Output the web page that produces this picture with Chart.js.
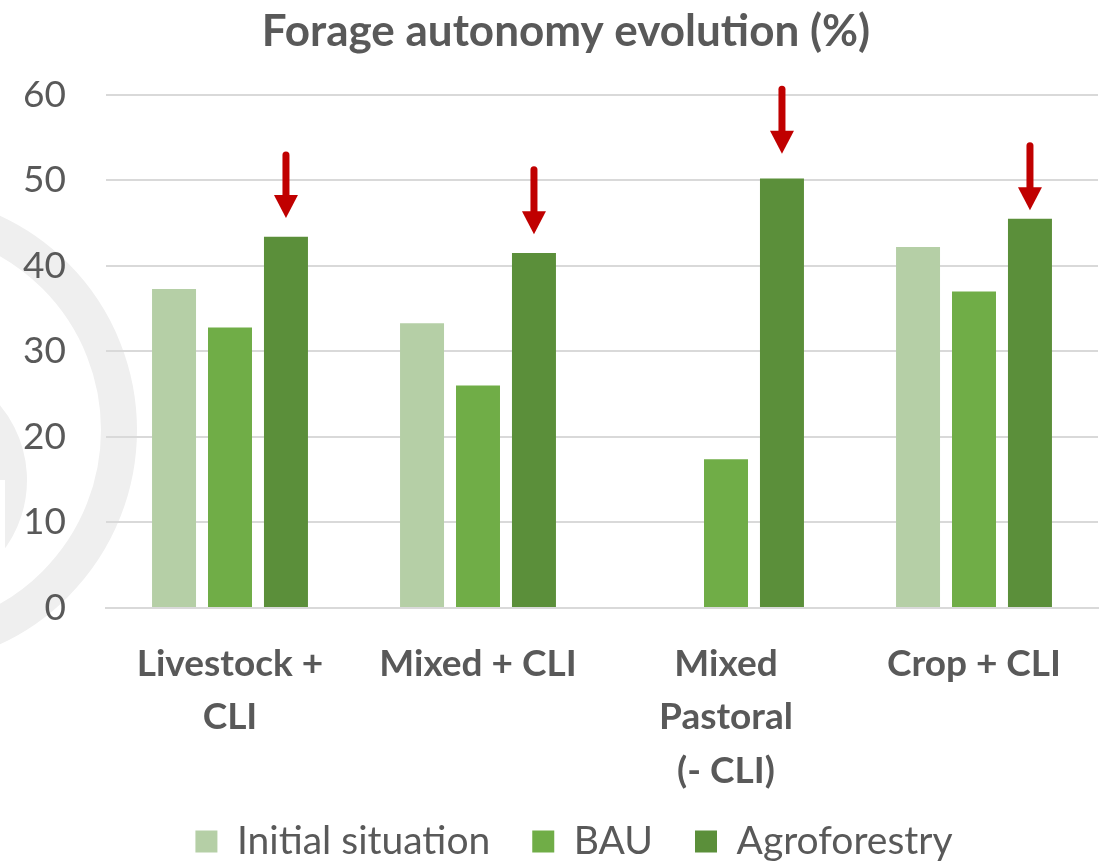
<!DOCTYPE html>
<html>
<head>
<meta charset="utf-8">
<script src="https://cdn.jsdelivr.net/npm/chart.js@4/dist/chart.umd.min.js"></script>
<style>
  html, body { margin: 0; padding: 0; background: #fff; }
  #wrap { width: 1104px; height: 862px; }
</style>
</head>
<body>
<div id="wrap"><canvas id="c" width="1104" height="862"></canvas></div>
<script>
  'use strict';

  const categories = [['Livestock +', 'CLI'], 'Mixed + CLI', ['Mixed', 'Pastoral', '(- CLI)'], 'Crop + CLI'];
  const initialSituation = [37.3, 33.3, null, 42.2];
  const bau = [32.8, 26.0, 17.4, 37.0];
  const agroforestry = [43.4, 41.5, 50.2, 45.5];
  // red arrows above the agroforestry bars (value range, top -> tip)
  const arrowFrom = [53.3, 51.6, 61.0, 54.4];
  const arrowTo = [45.6, 43.7, 53.1, 46.5];
  const yTicks = [0, 10, 20, 30, 40, 50, 60];

  const GREY = '#595959';
  const FONT = 'Lato, "Open Sans", sans-serif';

  // faint logo ring in the background on the left
  const watermark = {
    id: 'watermark',
    beforeDraw(chart) {
      const ctx = chart.ctx;
      ctx.save();
      ctx.strokeStyle = '#efefef';
      ctx.lineWidth = 36;
      ctx.beginPath();
      ctx.arc(-99, 430, 218, -Math.PI / 2, Math.PI / 2);
      ctx.stroke();
      ctx.lineWidth = 30;
      ctx.beginPath();
      ctx.arc(-90, 480, 102, -Math.PI / 2.5, Math.PI / 2.5);
      ctx.stroke();
      ctx.fillStyle = '#fff';
      ctx.fillRect(0, 480, 5, 94);
      ctx.restore();
    }
  };

  // legend a bit lower/right, title a bit right; let the x labels run past their box
  const nudge = {
    id: 'nudge',
    afterLayout(chart) {
      const lg = chart.legend;
      lg.top += 9;
      lg.bottom += 9;
      lg.left += 25;
      lg.right += 25;
      const t = chart.titleBlock;
      t.left += 17;
      t.right += 17;
      chart.scales.x.bottom += 40;
    }
  };

  const arrows = {
    id: 'arrows',
    afterDatasetsDraw(chart) {
      const ctx = chart.ctx;
      const meta = chart.getDatasetMeta(2);
      const y = chart.scales.y;
      ctx.save();
      ctx.fillStyle = '#C00000';
      ctx.strokeStyle = '#C00000';
      meta.data.forEach((bar, i) => {
        const x = bar.x;
        const y0 = y.getPixelForValue(arrowFrom[i]);
        const y1 = y.getPixelForValue(arrowTo[i]);
        const head = 23;
        ctx.lineWidth = 7;
        ctx.lineCap = 'round';
        ctx.beginPath();
        ctx.moveTo(x, y0 + 3);
        ctx.lineTo(x, y1 - head + 2);
        ctx.stroke();
        ctx.beginPath();
        ctx.moveTo(x - 12, y1 - head);
        ctx.lineTo(x + 12, y1 - head);
        ctx.lineTo(x, y1);
        ctx.closePath();
        ctx.fill();
      });
      ctx.restore();
    }
  };

  new Chart(document.getElementById('c'), {
    type: 'bar',
    data: {
      labels: categories,
      datasets: [
        { label: 'Initial situation', data: initialSituation, backgroundColor: '#B5CFA6' },
        { label: 'BAU', data: bau, backgroundColor: '#70AD47' },
        { label: 'Agroforestry', data: agroforestry, backgroundColor: '#5B8F3A' }
      ]
    },
    options: {
      responsive: false,
      animation: false,
      categoryPercentage: 0.677,
      barPercentage: 0.786,
      layout: { padding: { left: 0, right: 6, top: 0, bottom: 0 } },
      plugins: {
        title: {
          display: true,
          text: 'Forage autonomy evolution (%)',
          color: GREY,
          font: { family: FONT, size: 44, weight: 'bold' },
          padding: { top: 5, bottom: 37 }
        },
        legend: {
          position: 'bottom',
          labels: {
            color: GREY,
            font: { family: FONT, size: 39, lineHeight: 0.8 },
            boxWidth: 22,
            boxHeight: 22,
            padding: 42
          }
        },
        tooltip: { enabled: false }
      },
      scales: {
        x: {
          grid: { display: false },
          border: { color: '#d9d9d9', width: 2 },
          ticks: {
            color: GREY,
            font: { family: FONT, size: 37, weight: 'bold', lineHeight: 1.45 },
            padding: 21,
            maxRotation: 0,
            autoSkip: false
          },
          afterFit(scale) { scale.height = 163; }
        },
        y: {
          min: 0,
          max: 60,
          afterBuildTicks(scale) { scale.ticks = yTicks.map(v => ({ value: v })); },
          grid: { color: '#d9d9d9', lineWidth: 2, drawTicks: false },
          border: { display: false },
          ticks: {
            color: GREY,
            font: { family: FONT, size: 37 },
            padding: 40
          },
          afterFit(scale) { scale.width = 106; }
        }
      }
    },
    plugins: [watermark, nudge, arrows]
  });
</script>
</body>
</html>
